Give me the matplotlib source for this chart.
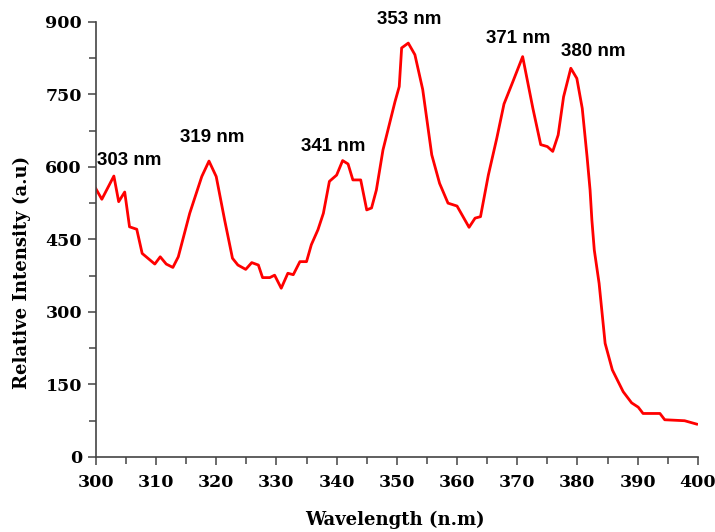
import matplotlib
matplotlib.use("Agg")
import matplotlib.pyplot as plt
from matplotlib.ticker import MultipleLocator

wavelength = [300.0, 301.0, 303.0, 303.8, 304.8, 305.6, 306.8, 307.7, 309.8, 310.7,
              311.7, 312.8, 313.7, 315.6, 317.6, 318.8, 320.0, 321.4, 322.7, 323.6,
              324.9, 325.9, 327.0, 327.7, 328.9, 329.7, 330.8, 331.9, 332.8, 333.9,
              335.0, 335.8, 336.9, 337.8, 338.8, 340.0, 341.0, 341.9, 342.7, 344.0,
              345.0, 345.8, 346.6, 347.7, 349.7, 350.4, 350.8, 351.9, 353.0, 354.3,
              355.8, 357.1, 358.5, 360.0, 362.0, 363.0, 363.9, 365.2, 366.6, 367.8,
              369.3, 370.9, 372.6, 373.9, 375.0, 375.9, 376.8, 377.7, 378.9, 379.9,
              380.8, 381.6, 382.1, 382.4, 382.8, 383.6, 384.6, 385.8, 387.6, 389.0,
              390.1, 390.9, 393.7, 394.5, 397.8, 399.8]
intensity = [555, 533, 581, 528, 548, 476, 471, 421, 399, 414,
             399, 392, 414, 504, 580, 612, 580, 490, 411, 397,
             388, 402, 397, 371, 371, 376, 349, 380, 377, 404,
             404, 439, 470, 504, 570, 583, 613, 606, 573, 573,
             511, 515, 552, 635, 735, 766, 846, 856, 832, 760,
             625, 566, 525, 519, 475, 494, 497, 583, 659, 730,
             777, 828, 721, 646, 642, 632, 666, 745, 804, 783,
             721, 621, 552, 490, 428, 359, 235, 180, 135, 112,
             103, 90, 90, 77, 75, 68]

peak_labels = ["303 nm", "319 nm", "341 nm", "353 nm", "371 nm", "380 nm"]
label_x = [305.5, 319.3, 339.4, 352.0, 370.1, 382.7]
label_y = [614, 660, 643, 904, 865, 838]

fig = plt.figure(figsize=(7.15, 5.32), dpi=100)
ax = fig.add_axes([0.134, 0.141, 0.842, 0.818])
ax.plot(wavelength, intensity, color="#ff0000", linewidth=2.0)

ax.set_xlim(300, 400)
ax.set_ylim(0, 900)
ax.xaxis.set_major_locator(MultipleLocator(10))
ax.xaxis.set_minor_locator(MultipleLocator(5))
ax.yaxis.set_major_locator(MultipleLocator(150))
ax.yaxis.set_minor_locator(MultipleLocator(75))
for s in ["top", "right"]:
    ax.spines[s].set_visible(False)
for s in ["left", "bottom"]:
    ax.spines[s].set_color("#444444")
    ax.spines[s].set_linewidth(1.2)
ax.tick_params(which="both", direction="out", length=6, width=1.1, color="#444444")
ax.tick_params(which="minor", length=5)

serif = ["DejaVu Serif"]
for lab in ax.get_xticklabels() + ax.get_yticklabels():
    lab.set_family(serif)
    lab.set_fontweight("bold")
    lab.set_fontsize(12.5)
ax.tick_params(axis="x", pad=6)
ax.tick_params(axis="y", pad=4)

ax.set_xlabel("Wavelength (n.m)", family=serif, fontweight="bold", fontsize=13, va="center")
ax.set_ylabel("Relative Intensity (a.u)", family=serif, fontweight="bold", fontsize=13, va="center")
ax.xaxis.set_label_coords(0.497, -0.145)
ax.yaxis.set_label_coords(-0.123, 0.425)

for t, x, y in zip(peak_labels, label_x, label_y):
    ax.text(x, y, t, ha="center", va="center", fontsize=13.5, fontweight="bold",
            family=["Liberation Sans"], clip_on=False)

fig.savefig("out.png", dpi=100)
